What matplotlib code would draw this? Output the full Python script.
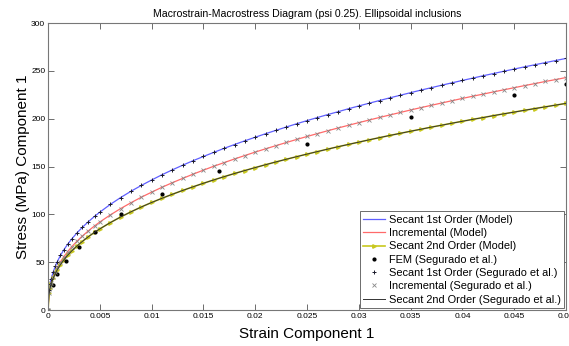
import matplotlib
matplotlib.use("Agg")
import matplotlib.pyplot as plt

# strain grid (denser near the origin)
strain = [0, 0.0001, 0.0002, 0.0003, 0.0005, 0.0007, 0.0009, 0.0012, 0.0015, 0.0019,
          0.0023, 0.0028, 0.0033, 0.0039, 0.0045,
          0.005, 0.006, 0.007, 0.008, 0.009, 0.010, 0.011, 0.012, 0.013, 0.014,
          0.015, 0.016, 0.017, 0.018, 0.019, 0.020, 0.021, 0.022, 0.023, 0.024,
          0.025, 0.026, 0.027, 0.028, 0.029, 0.030, 0.031, 0.032, 0.033, 0.034,
          0.035, 0.036, 0.037, 0.038, 0.039, 0.040, 0.041, 0.042, 0.043, 0.044,
          0.045, 0.046, 0.047, 0.048, 0.049, 0.050]

secant1 = [0, 20.6, 27.4, 32.3, 39.8, 45.7, 50.7, 57.0, 62.5, 68.8,
           74.4, 80.7, 86.3, 92.4, 98.0,
           102.3, 110.3, 117.5, 124.1, 130.2, 135.9, 141.4, 146.5, 151.4, 156.1,
           160.5, 164.8, 169.0, 173.0, 176.9, 180.6, 184.3, 187.8, 191.3, 194.7,
           198.0, 201.2, 204.3, 207.3, 210.4, 213.3, 216.2, 219.0, 221.8, 224.5,
           227.2, 229.9, 232.4, 235.0, 237.5, 240.0, 242.4, 244.9, 247.2, 249.6,
           251.9, 254.2, 256.4, 258.6, 260.8, 263.0]

incremental = [0, 17.6, 23.6, 28.0, 34.8, 40.1, 44.6, 50.4, 55.3, 61.1,
               66.3, 72.0, 77.2, 82.8, 88.0,
               92.0, 99.3, 106.0, 112.1, 117.9, 123.2, 128.3, 133.1, 137.6, 142.0,
               146.2, 150.3, 154.1, 157.9, 161.5, 165.1, 168.5, 171.8, 175.1, 178.3,
               181.4, 184.4, 187.4, 190.3, 193.1, 195.9, 198.6, 201.3, 203.9, 206.5,
               209.1, 211.6, 214.0, 216.4, 218.8, 221.2, 223.5, 225.7, 228.0, 230.2,
               232.4, 234.6, 236.7, 238.9, 240.9, 243.0]

secant2 = [0, 17.3, 23.0, 27.1, 33.3, 38.2, 42.3, 47.5, 52.0, 57.3,
           61.9, 67.0, 71.6, 76.7, 81.3,
           84.8, 91.3, 97.2, 102.6, 107.7, 112.4, 116.8, 121.0, 125.0, 128.8,
           132.5, 136.0, 139.4, 142.7, 145.8, 148.9, 151.9, 154.8, 157.6, 160.3,
           163.0, 165.6, 168.2, 170.7, 173.1, 175.5, 177.9, 180.2, 182.5, 184.7,
           186.9, 189.0, 191.2, 193.2, 195.3, 197.3, 199.3, 201.2, 203.2, 205.1,
           206.9, 208.8, 210.6, 212.4, 214.2, 216.0]

fem_strain = [0, 0.0005, 0.0009, 0.0017, 0.003, 0.0045, 0.007, 0.011, 0.0165,
              0.025, 0.035, 0.045, 0.05]
fem_stress = [0, 26, 38, 51, 66, 82, 100, 121, 145, 174, 202, 225, 236]

xticks = [0, 0.005, 0.01, 0.015, 0.02, 0.025, 0.03, 0.035, 0.04, 0.045, 0.05]
xticklabels = ['0', '0.005', '0.01', '0.015', '0.02', '0.025', '0.03', '0.035',
               '0.04', '0.045', '0.05']
yticks = [0, 50, 100, 150, 200, 250, 300]

plt.rcParams['font.family'] = ['Liberation Sans', 'DejaVu Sans']

fig = plt.figure(figsize=(5.69, 3.46), dpi=100)
ax = fig.add_axes([0.0844, 0.104, 0.9105, 0.8295])

ax.plot(strain, secant1, color='#5f5fff', lw=0.9, label='Secant 1st Order (Model)')
ax.plot(strain, incremental, color='#ff6a6a', lw=0.9, label='Incremental (Model)')
ax.plot(strain, secant2, color='#c8c81e', lw=1.2, marker='>', ms=2.5,
        label='Secant 2nd Order (Model)')
ax.plot(fem_strain, fem_stress, 'k.', ms=4, ls='none', label='FEM (Segurado et al.)')
ax.plot(strain, secant1, ls='none', marker='+', color='#1a1a2a', ms=3.5, mew=0.7,
        label='Secant 1st Order (Segurado et al.)')
ax.plot(strain, incremental, ls='none', marker='x', color='#888888', ms=2.5, mew=0.6,
        label='Incremental (Segurado et al.)')
ax.plot(strain, secant2, color='#333333', lw=0.7, label='Secant 2nd Order (Segurado et al.)')

ax.set_xlim(0, 0.05)
ax.set_ylim(0, 300)
ax.set_xticks(xticks)
ax.set_xticklabels(xticklabels)
ax.set_yticks(yticks)
ax.tick_params(direction='in', top=True, right=True, labelsize=6, length=4,
               width=0.6, color='#555555', pad=2)
for s in ax.spines.values():
    s.set_color('#777777')
    s.set_linewidth(0.8)

ax.set_title('Macrostrain-Macrostress Diagram (psi 0.25). Ellipsoidal inclusions',
             fontsize=7.6, pad=4)
ax.set_xlabel('Strain Component 1', fontsize=11, labelpad=5)
ax.set_ylabel('Stress (MPa) Component 1', fontsize=11, labelpad=1)

leg = ax.legend(loc='lower right', fontsize=7.9, frameon=True, fancybox=False,
                handlelength=2.0, handletextpad=0.3, borderpad=0.3,
                labelspacing=0.3, borderaxespad=0.2, framealpha=1)
leg.get_frame().set_edgecolor('#555555')
leg.get_frame().set_linewidth(0.6)

fig.savefig('out.png', dpi=100)
